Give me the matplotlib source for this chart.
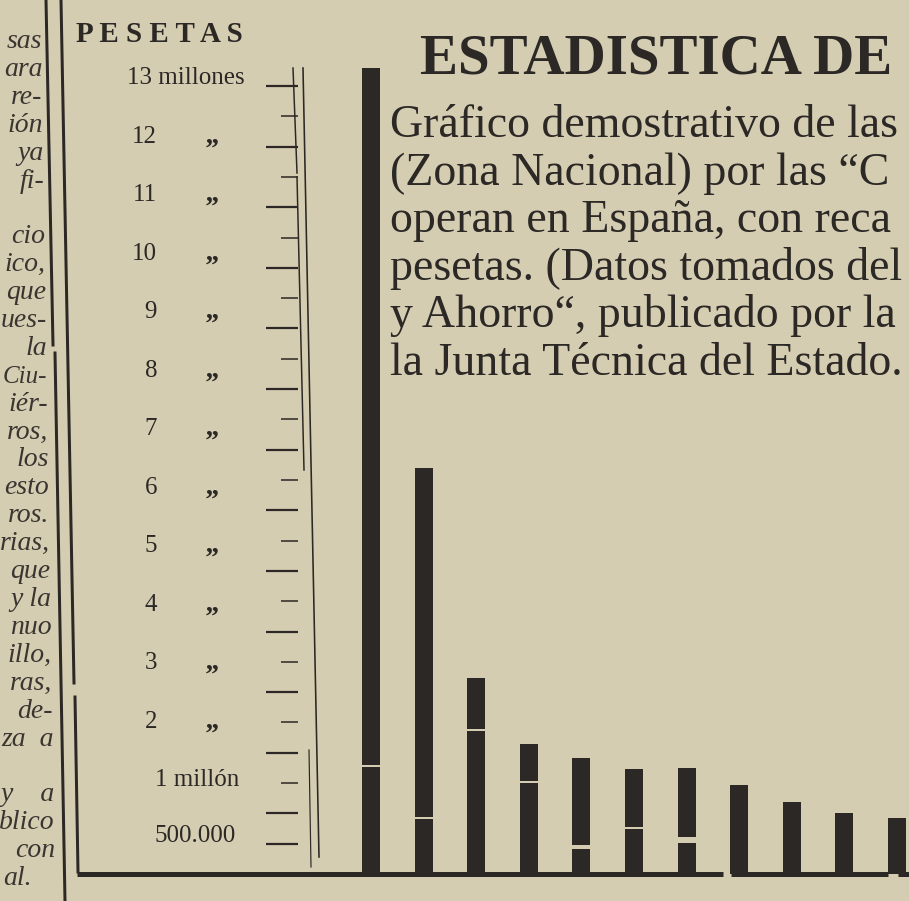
import matplotlib
matplotlib.use('Agg')
import matplotlib.pyplot as plt
from matplotlib import transforms
from matplotlib.lines import Line2D
import numpy as np

# ---------------- data (millones de pesetas) ----------------
companies = list(range(11))          # names are cut off below the baseline
part_lower = [1.78, 0.92, 2.38, 1.52, 0.45, 0.76, 0.56, 1.47, 1.19, 1.01, 0.92]
part_upper = [11.52, 5.78, 0.85, 0.62, 1.46, 0.97, 1.19, 0.0, 0.0, 0.0, 0.0]

major_ticks = [0.5, 1, 2, 3, 4, 5, 6, 7, 8, 9, 10, 11, 12, 13]
minor_ticks = [1.5, 2.5, 3.5, 4.5, 5.5, 6.5, 7.5, 8.5, 9.5, 10.5, 11.5, 12.5]
tick_labels = ['500.000', '1 millón', '2', '3', '4', '5', '6', '7', '8', '9',
               '10', '11', '12', '13 millones']
ditto_mark = ',,'

y_title = 'P E S E T A S'
title = 'ESTADISTICA DE'
subtitle_lines = [
    'Gráfico demostrativo de las',
    '(Zona Nacional) por las “C',
    'operan en España, con reca',
    'pesetas. (Datos tomados del',
    'y Ahorro“, publicado por la',
    'la Junta Técnica del Estado.',
]
side_column = ['sas', 'ara', 're-', 'ión', 'ya', 'fi-', '', 'cio', 'ico,', 'que',
               'ues-', 'la', 'Ciu-', 'iér-', 'ros,', 'los', 'esto', 'ros.', 'rias,',
               'que', 'y la', 'nuo', 'illo,', 'ras,', 'de-', 'za  a', '', 'y    a',
               'blico', 'con', 'al.']

# ---------------- style ----------------
PAPER = '#d5cdb2'
INK = '#2b2825'
INK2 = '#3a3530'
SERIF = ['Liberation Serif', 'DejaVu Serif']
gap_px = [2, 2, 2, 2, 4, 2, 6, 0, 0, 0, 0]

W, H = 909, 901
fig = plt.figure(figsize=(W / 100, H / 100), dpi=100)
fig.patch.set_facecolor(PAPER)


def fx(x):
    return x / W


def fy(y):
    return 1 - y / H


Y0 = 874.0           # pixel row of the zero line
PX_PER_M = (874 - 86) / 13.0
AX_LEFT = 330
X0_PX, UNIT = 371, 52.6

ax = fig.add_axes([fx(AX_LEFT), fy(Y0), 1 - fx(AX_LEFT), Y0 / H])
ax.set_facecolor('none')

x = np.arange(len(companies))
bw = 18 / UNIT
ax.bar(x, part_lower, width=bw, color=INK, linewidth=0)
ax.bar(x, part_upper, bottom=part_lower, width=bw, color=INK, linewidth=0)
for xi, lo, up, g in zip(x, part_lower, part_upper, gap_px):
    if up > 0 and g > 0:
        ax.hlines(lo, xi - bw * 0.6, xi + bw * 0.6, color=PAPER, linewidth=g * 0.72)

# baseline (with the small printing breaks)
for a, b in [(77, 723), (731, 888), (898, 909)]:
    ax.axhline(0, (a - AX_LEFT) / (W - AX_LEFT), (b - AX_LEFT) / (W - AX_LEFT),
               color=INK, linewidth=5 * 0.72, clip_on=False, solid_capstyle='butt')

# y ruler
for s in ['top', 'right', 'bottom']:
    ax.spines[s].set_visible(False)
ax.spines['left'].set_position(('axes', (298 - AX_LEFT) / (W - AX_LEFT)))
ax.spines['left'].set_visible(False)
ax.set_yticks(major_ticks)
ax.set_yticks(minor_ticks, minor=True)
ax.tick_params(axis='y', which='major', direction='out', length=23, width=1.6,
               color=INK, labelleft=False)
ax.tick_params(axis='y', which='minor', direction='out', length=12.5, width=1.1,
               color=INK, labelleft=False)
ax.tick_params(axis='x', which='both', bottom=False, labelbottom=False)

ax.set_xlim(-(X0_PX - AX_LEFT) / UNIT, (W - X0_PX) / UNIT)
ax.set_ylim(0, Y0 / PX_PER_M)

base_tr = transforms.blended_transform_factory(fig.transFigure, ax.transData)
for v, lab in zip(major_ticks, tick_labels):
    lift = 2 if v < 1 else 2 + 2.1 * (13 - v)          # hand-set label lift (px)
    tr = base_tr + transforms.ScaledTranslation(0, lift / 100, fig.dpi_scale_trans)
    if ' ' in lab or '.' in lab:
        ax.text(fx(127 if lab.startswith('13') else 155), v, lab, transform=tr,
                ha='left', va='baseline', fontsize=18, family=SERIF, color=INK)
    else:
        ax.text(fx(157), v, lab, transform=tr, ha='right', va='baseline',
                fontsize=18, family=SERIF, color=INK)
        ax.text(fx(213), v, ditto_mark, transform=tr, ha='center', va='baseline',
                fontsize=20, fontweight='bold', family=SERIF, color=INK)

# titles
fig.text(fx(76), fy(42), y_title, fontsize=21, fontweight='bold', family=SERIF,
         color=INK, ha='left', va='baseline')
fig.text(fx(420), fy(73), title, fontsize=41, fontweight='bold', family=SERIF,
         color=INK, ha='left', va='baseline')
for i, line in enumerate(subtitle_lines):
    fig.text(fx(390), fy(137 + i * 47.6), line, fontsize=33, family=SERIF,
             color=INK, ha='left', va='baseline')

# neighbouring newspaper column (cut off at the left edge, slightly skewed)
for i, line in enumerate(side_column):
    if not line:
        continue
    yb = 48 + i * 27.9
    size = 18 if line == 'Ciu-' else 20
    if line == 'al.':
        fig.text(fx(3), fy(yb), line, fontsize=size, style='italic', family=SERIF,
                 color=INK2, ha='left', va='baseline')
    else:
        fig.text(fx(41 + 15 * yb / H), fy(yb), line, fontsize=size, style='italic',
                 family=SERIF, color=INK2, ha='right', va='baseline')

# column rules and ruler lines
rules = [
    ((46, 0), (53, 345), 3), ((55, 353), (65, 901), 3),
    ((61, 0), (74, 683), 3), ((75, 697), (78, 872), 3),
    ((303, 68), (319, 857), 1.6),
    ((293, 68), (297, 173), 1.5), ((297, 177), (304, 470), 1.5),
    ((309, 750), (311, 867), 1.2),
]
for (xa, ya), (xb, yb), lw in rules:
    fig.add_artist(Line2D([fx(xa), fx(xb)], [fy(ya), fy(yb)], color=INK,
                          linewidth=lw * 0.72, transform=fig.transFigure))

fig.savefig('out.png', dpi=100, facecolor=PAPER)
